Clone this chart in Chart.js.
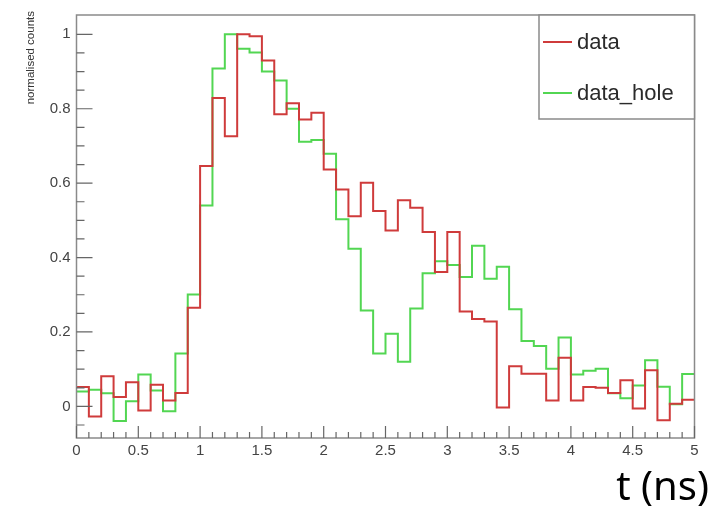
<!DOCTYPE html>
<html>
<head>
<meta charset="utf-8">
<script src="https://cdn.jsdelivr.net/npm/chart.js@4/dist/chart.umd.min.js"></script>
<style>
  html, body { margin: 0; padding: 0; background: #ffffff; }
  #wrap { width: 710px; height: 513px; position: relative; }
  canvas { display: block; }
</style>
</head>
<body>
<div id="wrap"><canvas id="c" width="710" height="513"></canvas></div>
<script>
// Histogram bin edges (ns), 50 bins of 0.1 ns
const binEdges = [0, 0.1, 0.2, 0.3, 0.4, 0.5, 0.6, 0.7, 0.8, 0.9,
  1.0, 1.1, 1.2, 1.3, 1.4, 1.5, 1.6, 1.7, 1.8, 1.9,
  2.0, 2.1, 2.2, 2.3, 2.4, 2.5, 2.6, 2.7, 2.8, 2.9,
  3.0, 3.1, 3.2, 3.3, 3.4, 3.5, 3.6, 3.7, 3.8, 3.9,
  4.0, 4.1, 4.2, 4.3, 4.4, 4.5, 4.6, 4.7, 4.8, 4.9, 5.0];

// Normalised counts per bin
const dataCounts = [0.052, -0.027, 0.081, 0.025, 0.065, -0.011, 0.058, 0.016, 0.036, 0.265,
  0.646, 0.829, 0.726, 1.0, 0.995, 0.93, 0.785, 0.815, 0.771, 0.789,
  0.637, 0.583, 0.511, 0.601, 0.525, 0.473, 0.554, 0.534, 0.469, 0.361,
  0.469, 0.255, 0.235, 0.228, -0.003, 0.108, 0.088, 0.088, 0.016, 0.131,
  0.016, 0.052, 0.050, 0.036, 0.070, -0.006, 0.097, -0.037, 0.007, 0.018];

const dataHoleCounts = [0.04, 0.045, 0.035, -0.039, 0.014, 0.086, 0.043, -0.013, 0.142, 0.301,
  0.54, 0.908, 1.0, 0.961, 0.951, 0.90, 0.876, 0.80, 0.711, 0.716,
  0.679, 0.503, 0.424, 0.258, 0.142, 0.195, 0.12, 0.263, 0.358, 0.39,
  0.38, 0.348, 0.432, 0.343, 0.375, 0.261, 0.176, 0.162, 0.101, 0.185,
  0.086, 0.096, 0.101, 0.035, 0.022, 0.056, 0.124, 0.053, 0.006, 0.087];

const seriesNames = ['data', 'data_hole'];
const seriesColors = ['#cf3b3b', '#52d652'];

// Axis ticks
const xMajorTicks = [0, 0.5, 1, 1.5, 2, 2.5, 3, 3.5, 4, 4.5, 5];
const xMinorTicks = [0.1, 0.2, 0.3, 0.4, 0.6, 0.7, 0.8, 0.9, 1.1, 1.2, 1.3, 1.4,
  1.6, 1.7, 1.8, 1.9, 2.1, 2.2, 2.3, 2.4, 2.6, 2.7, 2.8, 2.9, 3.1, 3.2, 3.3, 3.4,
  3.6, 3.7, 3.8, 3.9, 4.1, 4.2, 4.3, 4.4, 4.6, 4.7, 4.8, 4.9];
const yMajorTicks = [0, 0.2, 0.4, 0.6, 0.8, 1];
const yMinorTicks = [-0.05, 0.05, 0.1, 0.15, 0.25, 0.3, 0.35, 0.45, 0.5, 0.55,
  0.65, 0.7, 0.75, 0.85, 0.9, 0.95];

const xTitle = 't (ns)';
const yTitle = 'normalised counts';

// Step points: each bin's value held from its lower edge to the next edge
function stepPoints(counts) {
  return binEdges.map((x, i) => ({ x: x, y: counts[Math.min(i, counts.length - 1)] }));
}

const FRAME = '#8a8a8a';

// Frame, inward ticks, legend box and axis titles
const decorations = {
  id: 'decorations',
  afterDatasetsDraw(chart) {
    const ctx = chart.ctx;
    const a = chart.chartArea;
    const xs = chart.scales.x;
    const ys = chart.scales.y;
    ctx.save();
    ctx.strokeStyle = FRAME;
    ctx.lineWidth = 1.5;
    ctx.strokeRect(a.left, a.top, a.right - a.left, a.bottom - a.top);

    ctx.strokeStyle = '#666';
    ctx.lineWidth = 1.2;
    ctx.beginPath();
    xMajorTicks.forEach(v => {
      const px = xs.getPixelForValue(v);
      ctx.moveTo(px, a.bottom); ctx.lineTo(px, a.bottom - 12);
    });
    xMinorTicks.forEach(v => {
      const px = xs.getPixelForValue(v);
      ctx.moveTo(px, a.bottom); ctx.lineTo(px, a.bottom - 6);
    });
    yMajorTicks.forEach(v => {
      const py = ys.getPixelForValue(v);
      ctx.moveTo(a.left, py); ctx.lineTo(a.left + 16, py);
    });
    yMinorTicks.forEach(v => {
      const py = ys.getPixelForValue(v);
      ctx.moveTo(a.left, py); ctx.lineTo(a.left + 8, py);
    });
    ctx.stroke();

    // Legend box in the top-right corner
    const lx = 539, ly = a.top, lw = a.right - 539, lh = 119 - a.top;
    ctx.fillStyle = '#ffffff';
    ctx.fillRect(lx, ly, lw, lh);
    ctx.strokeStyle = FRAME;
    ctx.lineWidth = 1.5;
    ctx.strokeRect(lx, ly, lw, lh);
    const rows = [42, 93];
    chart.data.datasets.forEach((ds, i) => {
      ctx.strokeStyle = ds.borderColor;
      ctx.lineWidth = 2;
      ctx.beginPath();
      ctx.moveTo(543, rows[i]); ctx.lineTo(572, rows[i]);
      ctx.stroke();
      ctx.fillStyle = '#2a2a2a';
      ctx.font = '22px "Liberation Sans", Arial, sans-serif';
      ctx.textAlign = 'left';
      ctx.textBaseline = 'middle';
      ctx.fillText(ds.label, 577, rows[i] + 1);
    });

    // y title, aligned to the top end of the axis
    ctx.save();
    ctx.translate(31, 11);
    ctx.rotate(-Math.PI / 2);
    ctx.fillStyle = '#333';
    ctx.font = '11.5px "Liberation Sans", Arial, sans-serif';
    ctx.textAlign = 'right';
    ctx.textBaseline = 'middle';
    ctx.fillText(yTitle, 0, 0);
    ctx.restore();

    // x title, bottom right
    ctx.fillStyle = '#000';
    ctx.font = '40px "Noto Sans", "Open Sans", sans-serif';
    ctx.textAlign = 'right';
    ctx.textBaseline = 'alphabetic';
    ctx.fillText(xTitle, 709, 500);
    ctx.restore();
  }
};

const tickFont = { family: '"Liberation Sans", Arial, sans-serif', size: 15 };

new Chart(document.getElementById('c'), {
  type: 'line',
  data: {
    datasets: [
      { label: seriesNames[0], data: stepPoints(dataCounts), borderColor: seriesColors[0],
        borderWidth: 2, stepped: 'before', pointRadius: 0, fill: false },
      { label: seriesNames[1], data: stepPoints(dataHoleCounts), borderColor: seriesColors[1],
        borderWidth: 2, stepped: 'before', pointRadius: 0, fill: false }
    ]
  },
  options: {
    responsive: false,
    animation: false,
    layout: { padding: { top: 13, right: 15.5, left: 0, bottom: 0 } },
    plugins: { legend: { display: false }, tooltip: { enabled: false } },
    scales: {
      x: {
        type: 'linear', min: 0, max: 5,
        grid: { display: false, drawTicks: false },
        border: { display: false },
        afterBuildTicks: s => { s.ticks = xMajorTicks.map(v => ({ value: v })); },
        afterFit: s => { s.height = 75; },
        ticks: { font: tickFont, color: '#444', padding: 4, maxRotation: 0, autoSkip: false,
          callback: v => String(Math.round(v * 10) / 10) }
      },
      y: {
        type: 'linear', min: -0.085, max: 1.052,
        grid: { display: false, drawTicks: false },
        border: { display: false },
        afterBuildTicks: s => { s.ticks = yMajorTicks.map(v => ({ value: v })); },
        afterFit: s => { s.width = 76.5; },
        ticks: { font: tickFont, color: '#444', padding: 6, autoSkip: false,
          callback: v => String(Math.round(v * 10) / 10) }
      }
    }
  },
  plugins: [decorations]
});
</script>
</body>
</html>
